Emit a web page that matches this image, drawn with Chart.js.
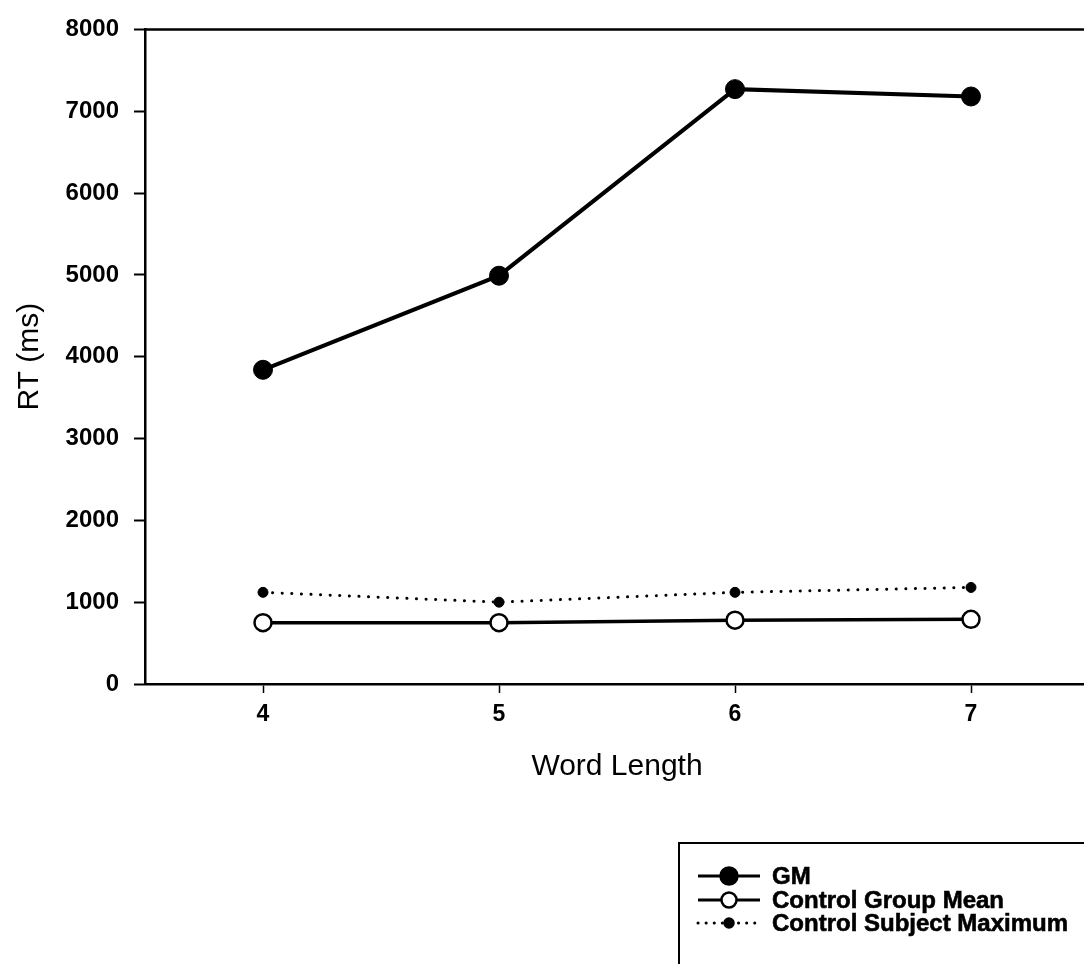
<!DOCTYPE html>
<html>
<head>
<meta charset="utf-8">
<script src="https://cdn.jsdelivr.net/npm/chart.js@4/dist/chart.umd.min.js"></script>
<style>
html,body{margin:0;padding:0;background:#fff;overflow:hidden;width:1084px;height:964px;}
canvas{display:block;}
</style>
</head>
<body>
<canvas id="c" width="1110" height="964"></canvas>
<script>
const categories = ['4', '5', '6', '7'];
const gmValues = [3840, 4990, 7270, 7180];
const controlMeanValues = [750, 750, 780, 790];
const controlMaxValues = [1120, 1000, 1120, 1180];
const seriesNames = ['GM', 'Control Group Mean', 'Control Subject Maximum'];
const yTicks = [0, 1000, 2000, 3000, 4000, 5000, 6000, 7000, 8000];
const xTitle = 'Word Length';
const yTitle = 'RT (ms)';

const FONT = '"Liberation Sans", Arial, Helvetica, sans-serif';

const frameAndLegend = {
  id: 'frameAndLegend',
  afterDraw(chart) {
    const ctx = chart.ctx;
    const a = chart.chartArea;
    ctx.save();
    ctx.strokeStyle = '#000';
    ctx.lineWidth = 2.5;
    ctx.beginPath();
    ctx.moveTo(a.left - 1, a.top);
    ctx.lineTo(chart.width, a.top);
    ctx.stroke();

    const bx = 679, by = 843;
    ctx.lineWidth = 2;
    ctx.beginPath();
    ctx.moveTo(bx, chart.height);
    ctx.lineTo(bx, by);
    ctx.lineTo(chart.width, by);
    ctx.stroke();

    const rows = [876, 900, 923];
    const x0 = 698, x1 = 760, xm = 729, tx = 772;
    chart.data.datasets.forEach((ds, i) => {
      const y = rows[i];
      ctx.save();
      ctx.strokeStyle = '#000';
      ctx.lineWidth = 3;
      if (ds.borderDash && ds.borderDash.length) {
        ctx.setLineDash([0.1, 8]);
        ctx.lineCap = 'round';
      }
      ctx.beginPath();
      ctx.moveTo(x0, y);
      ctx.lineTo(x1, y);
      ctx.stroke();
      ctx.restore();
      const r = i === 0 ? 8.5 : (i === 1 ? 7.5 : 4.5);
      ctx.beginPath();
      ctx.arc(xm, y, r, 0, Math.PI * 2);
      ctx.fillStyle = ds.pointBackgroundColor;
      ctx.fill();
      ctx.lineWidth = 2.5;
      ctx.strokeStyle = '#000';
      ctx.stroke();
      ctx.fillStyle = '#000';
      ctx.font = 'bold 24px ' + FONT;
      ctx.textBaseline = 'middle';
      ctx.textAlign = 'left';
      ctx.lineWidth = 0.6;
      ctx.fillText(ds.label, tx, y + 1);
      ctx.strokeText(ds.label, tx, y + 1);
    });
    ctx.restore();
  }
};

new Chart(document.getElementById('c'), {
  type: 'line',
  data: {
    labels: categories,
    datasets: [
      {
        label: seriesNames[0],
        data: gmValues,
        borderColor: '#000',
        borderWidth: 4,
        pointRadius: 9.5,
        pointBackgroundColor: '#000',
        pointBorderColor: '#000',
        pointBorderWidth: 1,
        tension: 0
      },
      {
        label: seriesNames[1],
        data: controlMeanValues,
        borderColor: '#000',
        borderWidth: 3.5,
        pointRadius: 8.5,
        pointBackgroundColor: '#fff',
        pointBorderColor: '#000',
        pointBorderWidth: 2.5,
        tension: 0
      },
      {
        label: seriesNames[2],
        data: controlMaxValues,
        borderColor: '#000',
        borderWidth: 3,
        borderDash: [0.1, 9.5],
        borderCapStyle: 'round',
        pointRadius: 5,
        pointBackgroundColor: '#000',
        pointBorderColor: '#000',
        pointBorderWidth: 1,
        tension: 0
      }
    ]
  },
  options: {
    responsive: false,
    animation: false,
    devicePixelRatio: 1,
    layout: { padding: { top: 25, right: 21, bottom: 164, left: 0 } },
    plugins: { legend: { display: false }, tooltip: { enabled: false } },
    scales: {
      x: {
        type: 'category',
        offset: true,
        grid: { drawOnChartArea: false, tickLength: 9, tickWidth: 1.5, tickColor: '#000' },
        border: { display: true, color: '#000', width: 2.5 },
        ticks: { color: '#000', font: { family: FONT, size: 23, weight: 'bold' }, padding: 8 },
        title: { display: true, text: xTitle, color: '#000', font: { family: FONT, size: 30 }, padding: { top: 15, bottom: 15 } },
        afterFit(scale) { scale.height = 116; }
      },
      y: {
        min: 0,
        max: 8000,
        afterBuildTicks(scale) { scale.ticks = yTicks.map(v => ({ value: v })); },
        grid: { drawOnChartArea: false, tickLength: 11, tickWidth: 2, tickColor: '#000' },
        border: { display: true, color: '#000', width: 2.5 },
        ticks: {
          color: '#000',
          font: { family: FONT, size: 24, weight: 'bold' },
          padding: 15,
          callback: (v) => String(v)
        },
        title: { display: true, text: yTitle, color: '#000', font: { family: FONT, size: 30 }, padding: { top: 12, bottom: 12 } },
        afterFit(scale) { scale.width = 145; }
      }
    }
  },
  plugins: [frameAndLegend]
});
</script>
</body>
</html>
